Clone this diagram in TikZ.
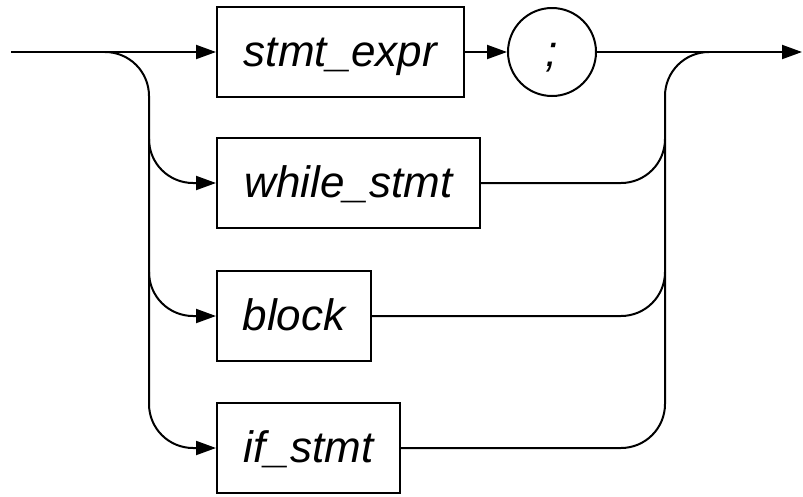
\documentclass[tikz,border=0pt]{standalone}
\usepackage{fontspec}
\setmainfont{Liberation Sans}
\usetikzlibrary{arrows.meta}
\begin{document}
\begin{tikzpicture}[x=1pt,y=1pt,
  line width=2pt,
  every node/.style={font=\fontsize{44}{50}\selectfont\itshape},
  nt/.style={draw, rectangle, inner xsep=0pt, inner ysep=0pt, text height=38pt, text depth=10pt, minimum height=90pt, anchor=west},
  term/.style={draw, circle, inner sep=0pt, text height=38pt, text depth=10pt, minimum size=88pt},
  arr/.style={-{Triangle[length=20pt,width=14pt]}},
  rc/.style={rounded corners=44pt}]
\useasboundingbox (0,0) rectangle (803,-496);
% nodes
\node[nt, minimum width=247pt] (expr) at (216,-52) {stmt\_expr};
\node[term] (semi) at (552,-52) {;};
\node[nt, minimum width=263pt] (while) at (216,-183) {while\_stmt};
\node[nt, minimum width=154pt] (block) at (216,-316) {block};
\node[nt, minimum width=183pt] (if) at (216,-448) {if\_stmt};
% coordinates
\coordinate (in) at (11,-52);
\coordinate (out) at (802,-52);
\coordinate (split) at (105,-52);
\coordinate (lcorner) at (149,-52);
\coordinate (lwhile) at (149,-139);
\coordinate (lblock) at (149,-272);
\coordinate (rjoin) at (665,-52);
\coordinate (rend) at (709,-52);
\coordinate (rwhile) at (665,-139);
\coordinate (rblock) at (665,-272);
% connectors
\draw[arr] (in) -- (expr.west);
\draw[arr] (expr.east) -- (semi.west);
\draw[arr] (semi.east) -- (out);
\draw[arr, rc] (split) -- (lcorner) |- (if.west);
\draw[arr, rc] (lwhile) |- (while.west);
\draw[arr, rc] (lblock) |- (block.west);
\draw[rc] (if.east) -| (rjoin) -- (rend);
\draw[rc] (while.east) -| (rwhile);
\draw[rc] (block.east) -| (rblock);
\end{tikzpicture}
\end{document}
